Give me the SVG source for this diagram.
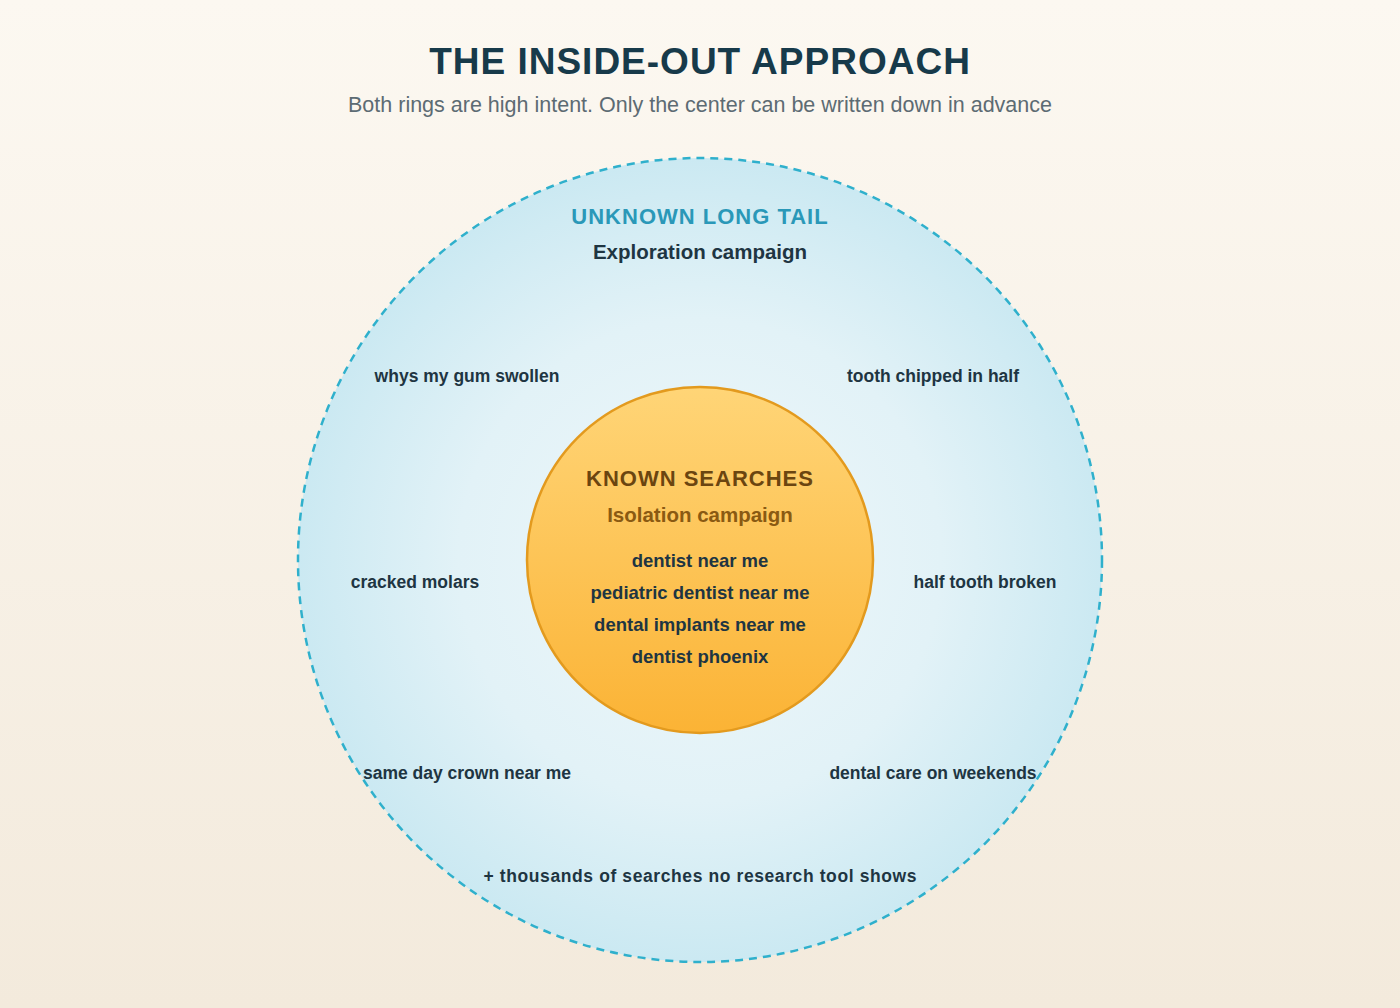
<svg xmlns="http://www.w3.org/2000/svg" width="1400" height="1008" viewBox="0 0 1400 1008">
<defs>
<linearGradient id="bg" x1="0" y1="0" x2="0" y2="1"><stop offset="0" stop-color="#fcf8f1"/><stop offset="1" stop-color="#f3eadc"/></linearGradient>
<radialGradient id="outer" cx="0.5" cy="0.5" r="0.5"><stop offset="0" stop-color="#eef7fa"/><stop offset="0.6" stop-color="#e2f2f7"/><stop offset="1" stop-color="#cbe9f2"/></radialGradient>
<linearGradient id="inner" x1="0" y1="0" x2="0" y2="1"><stop offset="0" stop-color="#ffd577"/><stop offset="1" stop-color="#fbb335"/></linearGradient>
<style>
text{font-family:"Liberation Sans",Arial,sans-serif;text-anchor:middle}
.kw{font-size:17.5px;font-weight:bold;fill:#1e3542}
.ck{font-size:18.5px;font-weight:bold;fill:#1e3542}
</style>
</defs>
<rect width="1400" height="1008" fill="url(#bg)"/>
<text x="700" y="74" font-size="37" font-weight="bold" fill="#173a4a" letter-spacing="1">THE INSIDE-OUT APPROACH</text>
<text x="700" y="112" font-size="21.5" fill="#5d6b73">Both rings are high intent. Only the center can be written down in advance</text>
<g id="outer-ring">
<circle cx="700" cy="560" r="402" fill="url(#outer)" stroke="#2fb0cc" stroke-width="2.5" stroke-dasharray="8,6"/>
<text x="700" y="224" font-size="22" font-weight="bold" fill="#2a98b8" letter-spacing="1">UNKNOWN LONG TAIL</text>
<text x="700" y="259" font-size="20.5" font-weight="bold" fill="#1e3542">Exploration campaign</text>
<text class="kw" x="467" y="382">whys my gum swollen</text>
<text class="kw" x="933" y="382">tooth chipped in half</text>
<text class="kw" x="415" y="588">cracked molars</text>
<text class="kw" x="985" y="588">half tooth broken</text>
<text class="kw" x="467" y="779">same day crown near me</text>
<text class="kw" x="933" y="779">dental care on weekends</text>
<text class="kw" x="700" y="882" font-size="18.5" textLength="433" lengthAdjust="spacing">+ thousands of searches no research tool shows</text>
</g>
<g id="inner-core">
<circle cx="700" cy="560" r="173" fill="url(#inner)" stroke="#e39a1e" stroke-width="2.5"/>
<text x="700" y="486" font-size="22" font-weight="bold" fill="#6b4510" letter-spacing="1">KNOWN SEARCHES</text>
<text x="700" y="522" font-size="20.5" font-weight="bold" fill="#8a5a12">Isolation campaign</text>
<text class="ck" x="700" y="567">dentist near me</text>
<text class="ck" x="700" y="599">pediatric dentist near me</text>
<text class="ck" x="700" y="631">dental implants near me</text>
<text class="ck" x="700" y="663">dentist phoenix</text>
</g>
<g id="connectors"/>
</svg>
